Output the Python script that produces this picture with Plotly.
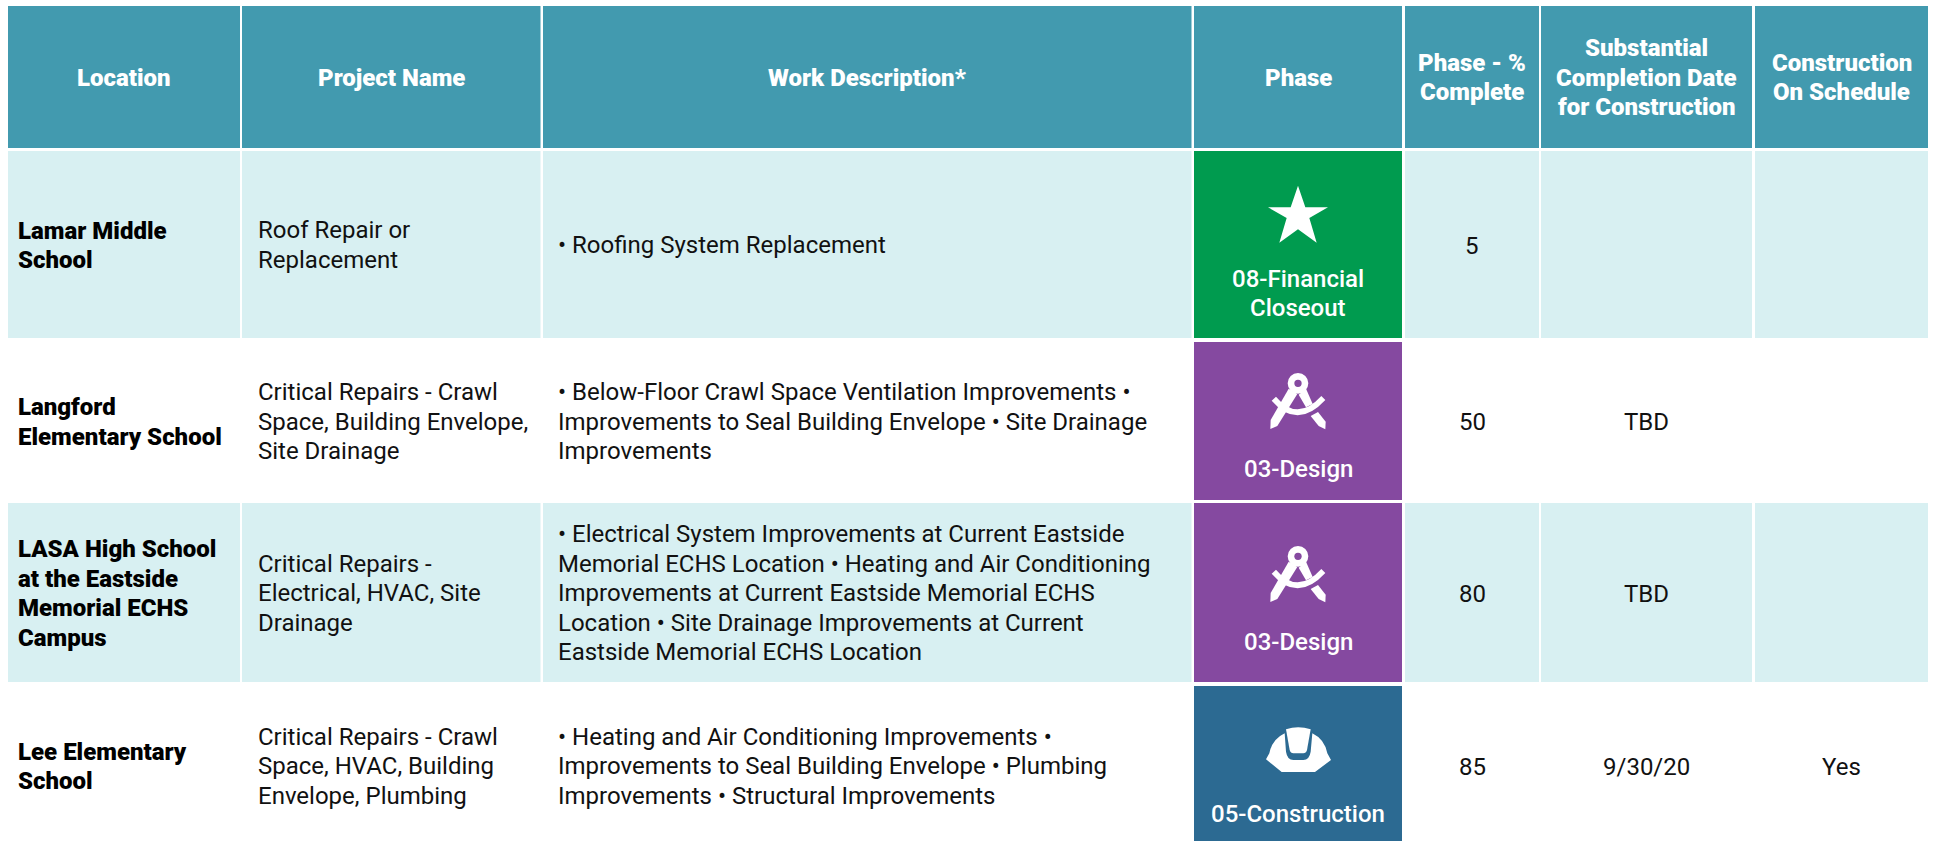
import plotly.graph_objects as go

# ---- data ----
headers = [["Location"], ["Project Name"], ["Work Description*"], ["Phase"],
           ["Phase - %", "Complete"],
           ["Substantial", "Completion Date", "for Construction"],
           ["Construction", "On Schedule"]]
locations = [["Lamar Middle", "School"],
             ["Langford", "Elementary School"],
             ["LASA High School", "at the Eastside", "Memorial ECHS", "Campus"],
             ["Lee Elementary", "School"]]
projects = [["Roof Repair or", "Replacement"],
            ["Critical Repairs - Crawl", "Space, Building Envelope,", "Site Drainage"],
            ["Critical Repairs -", "Electrical, HVAC, Site", "Drainage"],
            ["Critical Repairs - Crawl", "Space, HVAC, Building", "Envelope, Plumbing"]]
descriptions = [["• Roofing System Replacement"],
                ["• Below-Floor Crawl Space Ventilation Improvements •",
                 "Improvements to Seal Building Envelope • Site Drainage",
                 "Improvements"],
                ["• Electrical System Improvements at Current Eastside",
                 "Memorial ECHS Location • Heating and Air Conditioning",
                 "Improvements at Current Eastside Memorial ECHS",
                 "Location • Site Drainage Improvements at Current",
                 "Eastside Memorial ECHS Location"],
                ["• Heating and Air Conditioning Improvements •",
                 "Improvements to Seal Building Envelope • Plumbing",
                 "Improvements • Structural Improvements"]]
phases = [["08-Financial", "Closeout"], ["03-Design"], ["03-Design"], ["05-Construction"]]
percent_complete = ["5", "50", "80", "85"]
completion_dates = ["", "TBD", "TBD", "9/30/20"]
on_schedule = ["", "", "", "Yes"]

# ---- layout / style ----
W, H = 1935, 841
COLS = [(8, 240), (242, 540.5), (543, 1191.5), (1194, 1402), (1405, 1539), (1541, 1752), (1755, 1928)]
HEAD = (6, 148)
ROWS = [(151, 338), (342, 500), (503, 682), (686, 845)]
HEAD_C, BAND, INK = "#429AAF", "#D8F0F2", "#111111"
PHASE_C = {"08": "#009B4F", "03": "#8549A0", "05": "#2C6A92"}
FONT = "Roboto"
FS, LH = 24, 29.5
PHASE_LABEL_Y = [[279, 308], [469], [642], [814]]
ICON_SHIFT = [0, 0, 173, 0]
HEAVY = 900

shapes, notes = [], []


def rect(x0, x1, y0, y1, c):
    shapes.append(dict(type="rect", xref="x", yref="y", x0=x0, x1=x1, y0=y0, y1=y1,
                       fillcolor=c, line=dict(width=0), layer="below"))


def text(x, y, s, color=INK, weight=400, anchor="center", size=FS):
    notes.append(dict(x=x, y=y, xref="x", yref="y", text=s, showarrow=False,
                      xanchor=anchor, yanchor="middle", align=anchor,
                      font=dict(family=FONT, size=size, color=color, weight=weight)))


def block(x, yc, lines, **kw):
    for i, s in enumerate(lines):
        text(x, yc + (i - (len(lines) - 1) / 2) * LH, s, **kw)


def path(cmds, ox, oy, c="white"):
    """cmds are written in 3x crop pixels relative to origin (ox, oy)."""
    out = []
    for tok in cmds:
        letter, pts = tok[0], tok[1:]
        coords = " ".join(f"{ox + pts[i] / 3:.2f},{oy + pts[i + 1] / 3:.2f}" for i in range(0, len(pts), 2))
        out.append(f"{letter}{coords}")
    shapes.append(dict(type="path", xref="x", yref="y", path=" ".join(out) + " Z",
                       fillcolor=c, line=dict(width=0), layer="above"))


def circle(cx, cy, r, ox, oy, c):
    shapes.append(dict(type="circle", xref="x", yref="y", layer="above", fillcolor=c, line=dict(width=0),
                       x0=ox + (cx - r) / 3, x1=ox + (cx + r) / 3, y0=oy + (cy - r) / 3, y1=oy + (cy + r) / 3))


def star(ox, oy):
    path([("M", 354, 167), ("L", 376, 232), ("L", 444, 232), ("L", 388, 264), ("L", 410, 338),
          ("L", 354, 298), ("L", 298, 338), ("L", 320, 264), ("L", 264, 232), ("L", 332, 232)], ox, oy)


def compass(ox, oy, bg):
    circle(354, 130, 31, ox, oy, "white")
    path([("M", 326, 146), ("L", 272, 240), ("L", 271, 267), ("L", 292, 258), ("L", 352, 162)], ox, oy)
    path([("M", 378, 146), ("L", 356, 164), ("L", 378, 202), ("L", 398, 192)], ox, oy)
    path([("M", 392, 228), ("L", 414, 216), ("L", 437, 245), ("L", 436, 268), ("L", 416, 258)], ox, oy)
    path([("M", 275, 182), ("L", 288, 170), ("Q", 352, 247, 424, 168), ("L", 436, 180),
          ("Q", 352, 271, 275, 182)], ox, oy)
    circle(354, 130, 11, ox, oy, bg)


def helmet(ox, oy):
    path([("M", 258, 268), ("L", 268, 250), ("Q", 276, 208, 314, 190), ("L", 318, 245), ("Q", 322, 270, 340, 270),
          ("L", 370, 270), ("Q", 388, 270, 392, 245), ("L", 397, 190), ("Q", 434, 208, 442, 250),
          ("L", 453, 270), ("L", 405, 306), ("L", 305, 306)], ox, oy)
    path([("M", 318, 178), ("Q", 354, 165, 392, 178), ("L", 381, 240), ("Q", 378, 250, 370, 250),
          ("L", 340, 250), ("Q", 332, 250, 329, 240)], ox, oy)


# header
for (x0, x1), lines in zip(COLS, headers):
    rect(x0, x1, HEAD[0], HEAD[1], HEAD_C)
    block((x0 + x1) / 2, sum(HEAD) / 2 + 0.5, lines, color="white", weight=HEAVY)

# body
for r, (y0, y1) in enumerate(ROWS):
    yc = (y0 + y1) / 2 + 1
    fill = BAND if r % 2 == 0 else "white"
    for c, (x0, x1) in enumerate(COLS):
        rect(x0, x1, y0, y1, PHASE_C[phases[r][0][:2]] if c == 3 else fill)
    block(COLS[0][0] + 8, yc, locations[r], weight=HEAVY, anchor="left", color="#000000")
    block(COLS[1][0] + 14, yc - 0.5, projects[r], anchor="left")
    block(COLS[2][0] + 13, yc - 0.5, descriptions[r], anchor="left")
    for c, vals in ((4, percent_complete), (5, completion_dates), (6, on_schedule)):
        if vals[r]:
            text(sum(COLS[c]) / 2, yc, vals[r])
    px = sum(COLS[3]) / 2
    for s, y in zip(phases[r], PHASE_LABEL_Y[r]):
        text(px, y, s, color="white", weight=500)

star(1180, 130)
compass(1180, 340, PHASE_C["03"])
compass(1180, 340 + ICON_SHIFT[2], PHASE_C["03"])
helmet(1180, 670)

fig = go.Figure()
fig.update_layout(width=W, height=H, margin=dict(l=0, r=0, t=0, b=0), autosize=False,
                  paper_bgcolor="white", plot_bgcolor="white", showlegend=False,
                  shapes=shapes, annotations=notes,
                  xaxis=dict(range=[0, W], visible=False, fixedrange=True),
                  yaxis=dict(range=[H, 0], visible=False, fixedrange=True))
fig.write_html("out.html", config=dict(displayModeBar=False),
               post_script="document.body.style.margin='0';document.body.style.overflow='hidden';")
